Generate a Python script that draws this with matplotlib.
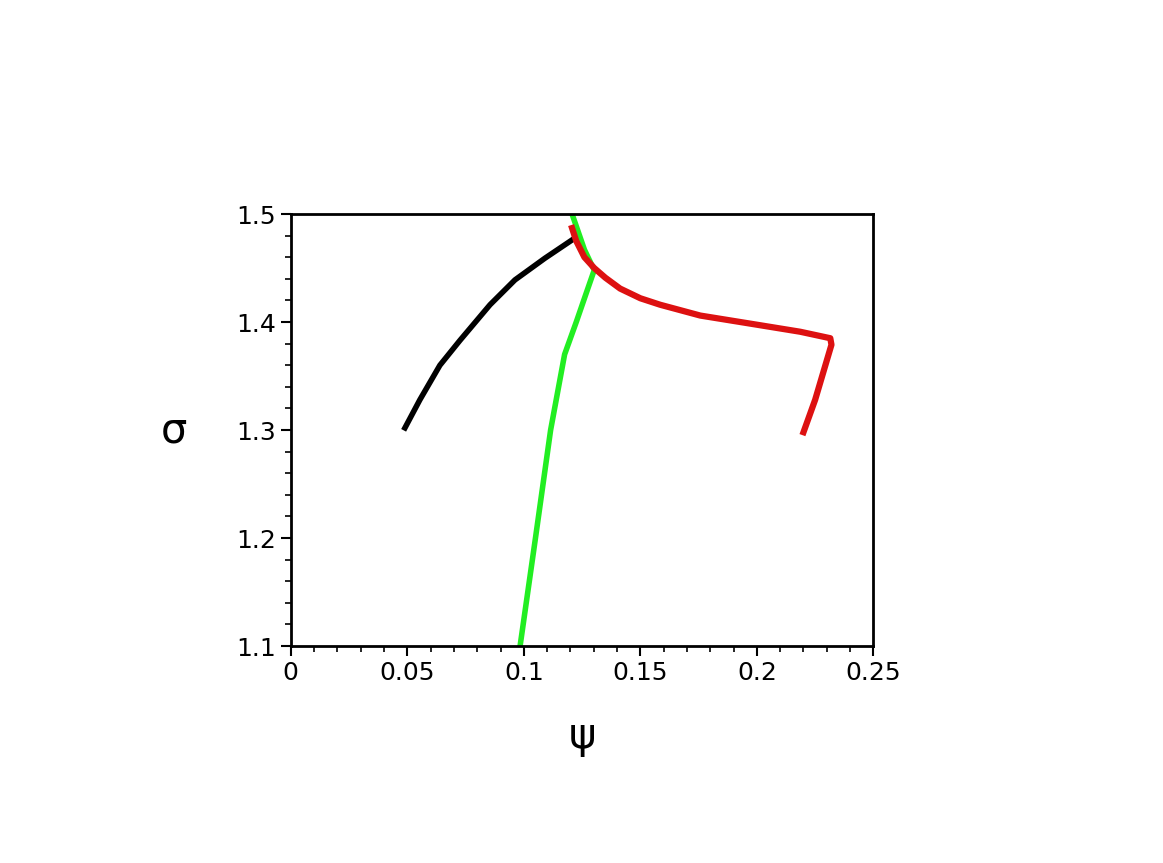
import matplotlib.pyplot as plt
import numpy as np

black_x = [0.049, 0.0554, 0.064, 0.0726, 0.0855, 0.0962, 0.109, 0.1207]
black_y = [1.302, 1.328, 1.360, 1.383, 1.416, 1.439, 1.459, 1.476]

green_x = [0.0984, 0.105, 0.1115, 0.1175, 0.1225, 0.1265, 0.1302, 0.126, 0.1207]
green_y = [1.10, 1.20, 1.30, 1.37, 1.40, 1.425, 1.448, 1.467, 1.50]

red_x = [0.1207, 0.1225, 0.1260, 0.1302, 0.1350, 0.1413, 0.1500, 0.1585, 0.1757, 0.2015, 0.2186, 0.2315, 0.232, 0.225, 0.220]
red_y = [1.487, 1.475, 1.460, 1.450, 1.441, 1.431, 1.422, 1.416, 1.406, 1.397, 1.391, 1.385, 1.379, 1.328, 1.298]

fig = plt.figure(figsize=(11.63, 8.63), dpi=100)
ax = fig.add_axes([0.250, 0.2514, 0.501, 0.5006])
ax.plot(green_x, green_y, color='#22ee22', lw=4)
ax.plot(black_x, black_y, color='black', lw=4)
ax.plot(red_x, red_y, color='#dd1111', lw=4.5)

ax.set_xlim(0, 0.25)
ax.set_ylim(1.1, 1.5)
ax.set_xticks([0, 0.05, 0.1, 0.15, 0.2, 0.25])
ax.set_xticklabels(['0', '0.05', '0.1', '0.15', '0.2', '0.25'])
ax.set_yticks([1.1, 1.2, 1.3, 1.4, 1.5])
ax.set_yticklabels(['1.1', '1.2', '1.3', '1.4', '1.5'])
ax.set_xticks(np.arange(0, 0.2501, 0.01), minor=True)
ax.set_yticks(np.arange(1.1, 1.501, 0.02), minor=True)
ax.tick_params(which='major', length=7, width=1.5, labelsize=18, direction='out')
ax.tick_params(which='minor', length=4, width=1.2, direction='out')
for s in ax.spines.values():
    s.set_linewidth(2)
ax.set_xlabel('ψ', fontsize=30, labelpad=22)
ax.set_ylabel('σ', fontsize=30, rotation=0, labelpad=45, va='center')

fig.savefig('out.png', dpi=100)
